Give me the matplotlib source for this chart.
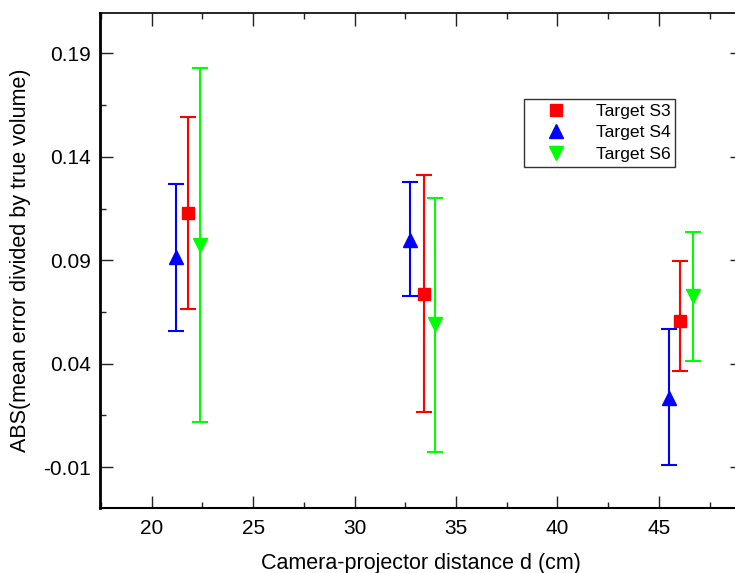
import matplotlib
matplotlib.use('Agg')
import matplotlib.pyplot as plt
from matplotlib.ticker import MultipleLocator, FixedLocator

plt.rcParams['font.family'] = ['Liberation Sans', 'DejaVu Sans']

# data (distance in cm, relative error)
names = ['Target S3', 'Target S4', 'Target S6']
colors = ['#ff0000', '#0000ff', '#00ff00']
markers = ['s', '^', 'v']

x_s3 = [21.78, 33.40, 46.06]
y_s3 = [0.113, 0.0738, 0.0607]
lo_s3 = [0.0664, 0.0166, 0.0364]
hi_s3 = [0.1593, 0.131, 0.0894]

x_s4 = [21.20, 32.75, 45.49]
y_s4 = [0.0918, 0.0999, 0.0234]
lo_s4 = [0.0556, 0.0729, -0.0089]
hi_s4 = [0.127, 0.128, 0.0568]

x_s6 = [22.38, 33.98, 46.67]
y_s6 = [0.0975, 0.0593, 0.0726]
lo_s6 = [0.0117, -0.0026, 0.0414]
hi_s6 = [0.183, 0.120, 0.1037]

yticks = [-0.01, 0.04, 0.09, 0.14, 0.19]

fig = plt.figure(figsize=(7.35, 5.73), dpi=100)
ax = fig.add_axes([100 / 735, 1 - 507.7 / 573, 642 / 735, 494.7 / 573])

series = [(x_s3, y_s3, lo_s3, hi_s3), (x_s4, y_s4, lo_s4, hi_s4), (x_s6, y_s6, lo_s6, hi_s6)]
handles = []
for (xs, ys, lo, hi), c, m, n in zip(series, colors, markers, names):
    err = [[y - l for y, l in zip(ys, lo)], [h - y for y, h in zip(ys, hi)]]
    ax.errorbar(xs, ys, yerr=err, fmt='none', ecolor=c, elinewidth=1.5,
                capsize=6, capthick=1.5)
    h, = ax.plot(xs, ys, linestyle='none', marker=m, color=c,
                 markersize=9 if m == 's' else 10, label=n)
    handles.append(h)

ax.set_xlim(17.45, 49.1)
ax.set_ylim(-0.0296, 0.2095)
ax.xaxis.set_major_locator(MultipleLocator(5))
ax.xaxis.set_minor_locator(MultipleLocator(2.5))
ax.yaxis.set_major_locator(FixedLocator(yticks))
ax.yaxis.set_minor_locator(FixedLocator([t + 0.025 for t in [-0.035] + yticks]))
ax.set_yticklabels(['%g' % t for t in yticks])

ax.tick_params(which='both', direction='in', top=True, right=True, labelsize=15,
               width=1, colors='#222222', labelcolor='black')
ax.tick_params(axis='y', pad=6.5)
ax.tick_params(axis='x', pad=8)
ax.tick_params(which='major', length=9)
ax.tick_params(which='minor', length=4)
for s in ax.spines.values():
    s.set_linewidth(1.2)
ax.spines['left'].set_linewidth(2)
ax.spines['bottom'].set_linewidth(1.5)

ax.set_xlabel('Camera-projector distance d (cm)', fontsize=15.5, labelpad=11)
ax.set_ylabel('ABS(mean error divided by true volume)', fontsize=15.5, labelpad=9)

leg = ax.legend(handles=handles, loc='upper left', bbox_to_anchor=(0.660, 0.826),
                borderaxespad=0, fancybox=False, edgecolor='black', fontsize=12.6,
                handletextpad=0.7, handlelength=3.2, borderpad=0.25, labelspacing=0.37)
leg.get_frame().set_linewidth(1)

fig.savefig('out.png', dpi=100)
